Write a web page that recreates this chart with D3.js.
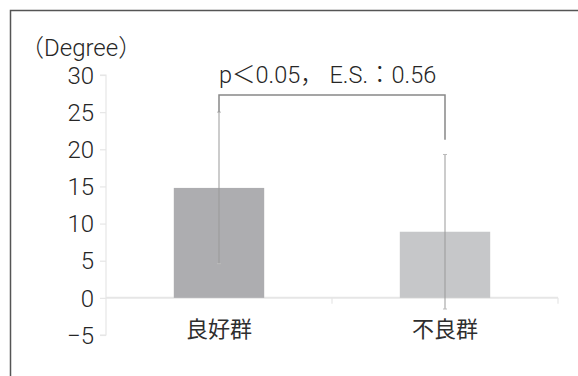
<!DOCTYPE html>
<html><head><meta charset="utf-8">
<script src="https://cdn.jsdelivr.net/npm/d3@7"></script>
<style>
html,body{margin:0;padding:0;background:#fff;}
svg{display:block;}
text{font-family:Roboto,"Noto Sans CJK JP",sans-serif;font-weight:300;fill:#262626;}
text.cjk{font-family:"Noto Sans CJK JP",sans-serif;font-weight:400;fill:#2e2e2e;}
</style></head>
<body>
<svg id="c" width="578" height="376"></svg>
<script>
const categories = ["良好群", "不良群"];
const means = [14.8, 8.9];
const sds = [10.2, 10.4];
const yTicks = [-5, 0, 5, 10, 15, 20, 25, 30];
const yLabel = "（Degree）";
const annotation = "p＜0.05， E.S.：0.56";
const bracketLevel = 27.3;
const bracketEnds = [25.0, 21.3];
const barColors = ["#adadb0", "#c6c7c9"];

const svg = d3.select("#c");

// frame (top and left)
svg.append("path").attr("d", "M10.5,376 V10.5 H578").attr("fill","none").attr("stroke","#555").attr("stroke-width",1.5);

const y = d3.scaleLinear().domain([-5, 30]).range([335, 75]);
const x = d3.scaleBand().domain(categories).range([106, 558]).paddingInner(0.6).paddingOuter(0.3);
const xb = d3.scaleBand().domain(categories).range([106, 558]).padding(0);

// zero line
svg.append("line").attr("x1", 106).attr("x2", 558).attr("y1", y(0)).attr("y2", y(0))
  .attr("stroke", "#e6e6e6").attr("stroke-width", 2);
// x ticks at band boundaries
[xb("不良群"), 558].forEach(v => {
  svg.append("line").attr("x1", v).attr("x2", v).attr("y1", y(0)).attr("y2", y(0) + 6)
    .attr("stroke", "#e6e6e6").attr("stroke-width", 1.2);
});

// y axis
const yAxis = svg.append("g").attr("transform", "translate(106,0)")
  .call(d3.axisLeft(y).tickValues(yTicks).tickSize(6).tickPadding(6).tickFormat(d => d < 0 ? "−" + Math.abs(d) : d));
yAxis.select(".domain").attr("stroke", "#e6e6e6").attr("stroke-width", 1.2).attr("d", `M-6,${y(30)}H0V${y(-5)}H-6`);
yAxis.selectAll(".tick line").attr("stroke", "#e6e6e6").attr("stroke-width", 1.2);
yAxis.selectAll(".tick text").attr("font-size", 24).attr("fill", "#262626")
  .style("font-family", 'Roboto,sans-serif').style("font-weight", 300).attr("dy", "0.34em");

// y label
svg.append("text").attr("x", 20).attr("y", 56).attr("font-size", 24).text(yLabel);

// bars
svg.selectAll(".bar").data(categories).join("rect")
  .attr("x", d => x(d)).attr("width", x.bandwidth())
  .attr("y", (d, i) => y(means[i])).attr("height", (d, i) => y(0) - y(means[i]))
  .attr("fill", (d, i) => barColors[i]);

// error bars
const cx = d => x(d) + x.bandwidth() / 2;
svg.selectAll(".err").data(categories).join("line")
  .attr("x1", cx).attr("x2", cx)
  .attr("y1", (d, i) => y(means[i] + sds[i])).attr("y2", (d, i) => y(means[i] - sds[i]))
  .attr("stroke", "#999").attr("stroke-width", 1);
svg.selectAll(".cap").data(categories).join("g").each(function(d, i) {
  [means[i] + sds[i], means[i] - sds[i]].forEach(v => {
    d3.select(this).append("line").attr("x1", cx(d) - 2).attr("x2", cx(d) + 2)
      .attr("y1", y(v)).attr("y2", y(v)).attr("stroke", "#bbb").attr("stroke-width", 1);
  });
});

// bracket
const bx = categories.map(cx);
svg.append("path")
  .attr("d", `M${bx[0]},${y(bracketEnds[0])}V${y(bracketLevel)}H${bx[1]}V${y(bracketEnds[1])}`)
  .attr("fill", "none").attr("stroke", "#888").attr("stroke-width", 1.5);
svg.append("text").attr("x", 219).attr("y", 83).attr("text-anchor", "start")
  .attr("font-size", 23.5).text(annotation);

// category labels
svg.selectAll(".cat").data(categories).join("text").attr("class", "cjk")
  .attr("x", cx).attr("y", 337).attr("text-anchor", "middle").attr("font-size", 22).text(d => d);
</script>
</body></html>
